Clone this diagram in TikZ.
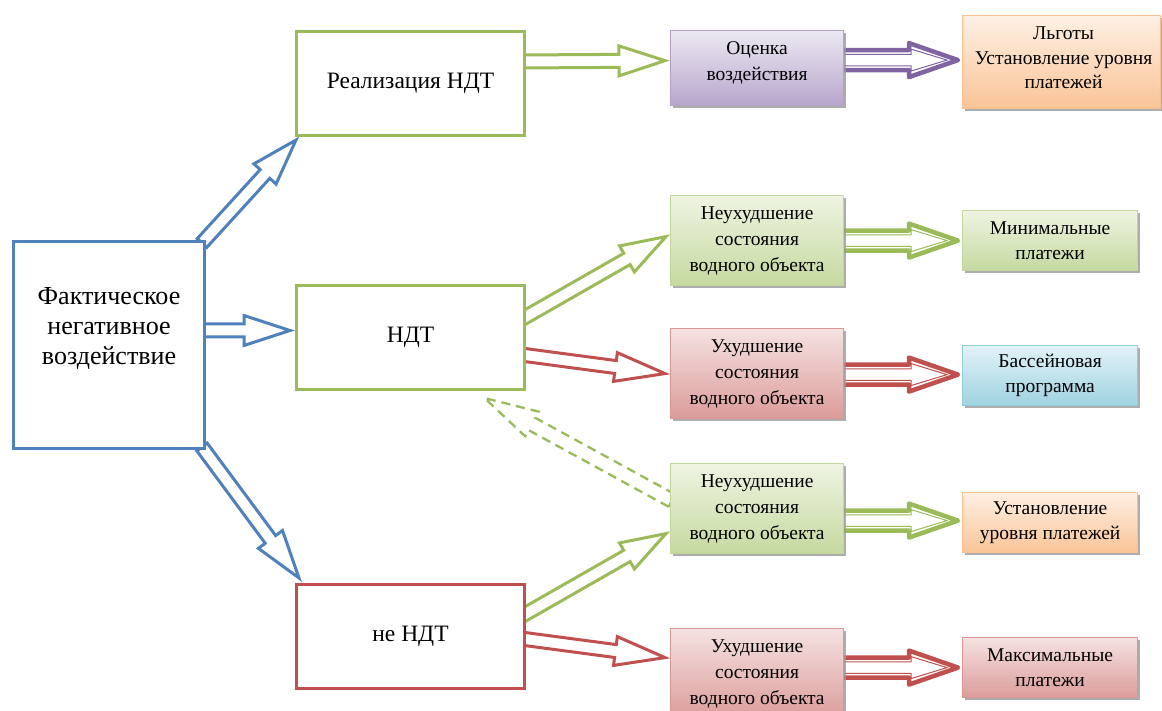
\documentclass[tikz,border=0pt]{standalone}
\usepackage{fontspec}
\setmainfont{Liberation Serif}
\usetikzlibrary{calc,shadows}
\definecolor{cblue}{HTML}{4F81BD}
\definecolor{cgreen}{HTML}{9BBB59}
\definecolor{cred}{HTML}{C0504D}
\definecolor{cpurple}{HTML}{8064A2}
\definecolor{pL}{HTML}{ECE8F2}\definecolor{pD}{HTML}{B7A6CC}\definecolor{pB}{HTML}{B3A2C7}
\definecolor{gL}{HTML}{EEF4E2}\definecolor{gD}{HTML}{C6D9A0}\definecolor{gB}{HTML}{C3D69B}
\definecolor{rL}{HTML}{F5E2E2}\definecolor{rD}{HTML}{DB9C9A}\definecolor{rB}{HTML}{D99694}
\definecolor{bL}{HTML}{E2F2F7}\definecolor{bD}{HTML}{9FD3E1}\definecolor{bB}{HTML}{93CDDD}
\definecolor{oL}{HTML}{FEF0E4}\definecolor{oD}{HTML}{FAC497}\definecolor{oB}{HTML}{FAC090}
\pgfdeclarelayer{bg}
\pgfsetlayers{bg,main}
% #1 style, #2 tail, #3 tip, #4 shaft half-width, #5 head half-width, #6 head length
\newcommand{\blockarr}[6]{%
  \path (#2) coordinate (tA) (#3) coordinate (tB);
  \path ($(tB)!#6!(tA)$) coordinate (tH);
  \draw[#1] ($(tA)!#4!90:(tB)$) -- ($(tH)!#4!90:(tB)$) -- ($(tH)!#5!90:(tB)$) -- (tB)
    -- ($(tH)!#5!-90:(tB)$) -- ($(tH)!#4!-90:(tB)$) -- ($(tA)!#4!-90:(tB)$) -- cycle;
}
% double outlined arrow: #1 colour, #2 tail, #3 tip
\newcommand{\dblarr}[3]{%
  \path (#2) coordinate (dA) (#3) coordinate (dB);
  \path ($(dB)!11pt!(dA)$) coordinate (dI);
  \blockarr{draw=#1, line width=4.5pt, fill=white, line join=round}{dA}{dB}{10pt}{17pt}{49pt}
  \blockarr{draw=#1, line width=1pt, line join=miter}{dA}{dI}{5.8pt}{11pt}{36pt}
}
\tikzset{
  bigbox/.style={draw, line width=3pt, fill=white, align=center, inner sep=2pt, anchor=north west},
  sbox/.style={draw, line width=1.2pt, align=center, inner sep=2pt, anchor=north west,
    drop shadow={shadow xshift=2.5pt, shadow yshift=-2.5pt, fill=black!40, opacity=0.8}},
  arr/.style={line width=3pt, fill=white, line join=miter},
  bigfont/.style={font=\fontsize{26}{30}\selectfont},
  midfont/.style={font=\fontsize{23.5}{27}\selectfont},
  smallfont/.style={font=\fontsize{19.5}{26}\selectfont},
  rightfont/.style={font=\fontsize{19.5}{24.5}\selectfont},
}
\begin{document}
\begin{tikzpicture}[x=1pt, y=-1pt]
\useasboundingbox (0,0) rectangle (1162,711);
% big boxes
\node[bigbox, draw=cblue, minimum width=191pt, minimum height=207pt,
  label={[bigfont, align=center, yshift=16pt]center:Фактическое\\негативное\\воздействие}] (fact) at (12,240) {};
\node[bigbox, draw=cgreen, midfont, minimum width=228pt, minimum height=104pt] (real) at (295,30) {Реализация НДТ};
\node[bigbox, draw=cgreen, midfont, minimum width=228pt, minimum height=104pt] (ndt) at (295,284) {НДТ};
\node[bigbox, draw=cred, midfont, minimum width=228pt, minimum height=104pt] (nendt) at (295,583) {не НДТ};
% middle column
\node[sbox, draw=pB, top color=pL, bottom color=pD, minimum width=173pt, minimum height=75pt,
  label={[smallfont, align=center, yshift=5pt]center:Оценка\\воздействия}] (ocen) at (670,30) {};
\node[sbox, draw=gB, top color=gL, bottom color=gD, smallfont, minimum width=173pt, minimum height=90pt] (neu1) at (670,195)
  {Неухудшение\\состояния\\водного объекта};
\node[sbox, draw=rB, top color=rL, bottom color=rD, smallfont, minimum width=173pt, minimum height=90pt] (uh1) at (670,328)
  {Ухудшение\\состояния\\водного объекта};
\node[sbox, draw=gB, top color=gL, bottom color=gD, smallfont, minimum width=173pt, minimum height=90pt] (neu2) at (670,463)
  {Неухудшение\\состояния\\водного объекта};
\node[sbox, draw=rB, top color=rL, bottom color=rD, smallfont, minimum width=173pt, minimum height=90pt] (uh2) at (670,628)
  {Ухудшение\\состояния\\водного объекта};
% right column
\node[sbox, draw=oB, top color=oL, bottom color=oD, minimum width=198pt, minimum height=93pt,
  label={[rightfont, align=center, yshift=4pt, xshift=2pt]center:Льготы\\Установление уровня\\платежей}] (lg) at (962,15) {};
\node[sbox, draw=gB, top color=gL, bottom color=gD, rightfont, minimum width=175pt, minimum height=60pt] (min) at (962,210)
  {Минимальные\\платежи};
\node[sbox, draw=bB, top color=bL, bottom color=bD, rightfont, minimum width=175pt, minimum height=60pt] (bas) at (962,345)
  {Бассейновая\\программа};
\node[sbox, draw=oB, top color=oL, bottom color=oD, rightfont, minimum width=175pt, minimum height=60pt] (ust) at (962,492)
  {Установление\\уровня платежей};
\node[sbox, draw=rB, top color=rL, bottom color=rD, rightfont, minimum width=175pt, minimum height=60pt] (max) at (962,637)
  {Максимальные\\платежи};
% connectors
\begin{pgfonlayer}{bg}
\blockarr{arr, draw=cblue}{$(fact.north east)+(-4,3)$}{$(real.south west)+(1,3)$}{6.5pt}{15pt}{46pt}
\blockarr{arr, draw=cblue}{$(fact.east)+(-4,-14.5)$}{$(ndt.west)+(-5,-7)$}{6.5pt}{15pt}{46pt}
\blockarr{arr, draw=cblue}{$(fact.south east)+(-4,-3)$}{$(nendt.north west)+(4,-5)$}{6.5pt}{15pt}{48pt}
\blockarr{arr, draw=cgreen}{$(real.east)+(-8,-22)$}{$(ocen.west)+(-5,-7.5)$}{6.5pt}{15pt}{46pt}
\blockarr{arr, draw=cgreen}{$(ndt.east)+(-5,-18)$}{$(neu1.west)+(-4,-4)$}{6.5pt}{15pt}{45pt}
\blockarr{arr, draw=cred}{$(ndt.east)+(-5,17)$}{$(uh1.west)+(-5,0)$}{6.5pt}{14.5pt}{50pt}
\blockarr{arr, draw=cgreen}{$(nendt.east)+(-5,-20)$}{$(neu2.west)+(-4,25)$}{6.5pt}{15pt}{45pt}
\blockarr{arr, draw=cred}{$(nendt.east)+(-5,2)$}{$(uh2.west)+(-5,-16)$}{6.5pt}{14.5pt}{50pt}
\blockarr{draw=cgreen, line width=2.3pt, dash pattern=on 9pt off 6pt}{$(neu2.west)+(2,-8)$}{$(ndt.south)+(74,7)$}{7pt}{14pt}{54pt}
\dblarr{cpurple}{$(ocen.east)+(-2,-8)$}{$(lg.west)+(-4,-2)$}
\dblarr{cgreen}{$(neu1.east)+(-2,0)$}{$(min.west)+(-4,0)$}
\dblarr{cred}{$(uh1.east)+(-2,1)$}{$(bas.west)+(-4,-1)$}
\dblarr{cgreen}{$(neu2.east)+(-2,12)$}{$(ust.west)+(-4,-2)$}
\dblarr{cred}{$(uh2.east)+(-2,-6)$}{$(max.west)+(-4,0)$}
\end{pgfonlayer}
\end{tikzpicture}
\end{document}
